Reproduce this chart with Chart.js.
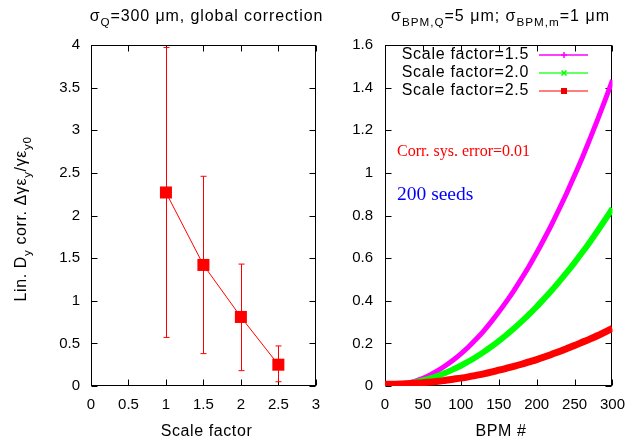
<!DOCTYPE html>
<html>
<head>
<meta charset="utf-8">
<script src="https://cdn.jsdelivr.net/npm/chart.js@4"></script>
<style>
  body { margin: 0; background: #fff; }
  #wrap { position: relative; width: 635px; height: 439px; }
  canvas { position: absolute; top: 0; }
  #left { left: 0; }
  #right { left: 330px; }
</style>
</head>
<body>
<div id="wrap">
  <canvas id="left" width="330" height="439"></canvas>
  <canvas id="right" width="305" height="439"></canvas>
</div>
<script>
// left panel: mean correction vs scale factor, with spread over seeds
const scaleFactors = [1, 1.5, 2, 2.5];
const corrMean = [2.27, 1.42, 0.81, 0.25];
const corrLow = [0.57, 0.38, 0.18, 0.05];
const corrHigh = [3.97, 2.46, 1.43, 0.47];

// right panel: growth along the line for each scale factor
const bpm = [0, 10, 20, 30, 40, 50, 60, 70, 80, 90, 100, 110, 120, 130, 140, 150,
  160, 170, 180, 190, 200, 210, 220, 230, 240, 250, 260, 270, 280, 290, 300];
const sf15 = [0.000, 0.001, 0.006, 0.013, 0.023, 0.036, 0.053, 0.073, 0.096, 0.122, 0.151,
  0.183, 0.219, 0.258, 0.301, 0.347, 0.396, 0.448, 0.504, 0.562, 0.625,
  0.691, 0.760, 0.833, 0.908, 0.988, 1.070, 1.157, 1.246, 1.339, 1.435];
const sf20 = [0.003, 0.004, 0.007, 0.011, 0.018, 0.026, 0.036, 0.048, 0.062, 0.078, 0.095,
  0.115, 0.136, 0.159, 0.184, 0.211, 0.239, 0.270, 0.302, 0.336, 0.372,
  0.410, 0.449, 0.491, 0.534, 0.579, 0.626, 0.675, 0.726, 0.779, 0.833];
const sf25 = [0.008, 0.008, 0.009, 0.011, 0.013, 0.015, 0.019, 0.022, 0.027, 0.032, 0.037,
  0.043, 0.050, 0.057, 0.065, 0.074, 0.083, 0.092, 0.102, 0.113, 0.124,
  0.136, 0.149, 0.162, 0.176, 0.190, 0.205, 0.220, 0.236, 0.253, 0.270];
const seriesLabels = ['Scale factor=1.5', 'Scale factor=2.0', 'Scale factor=2.5'];

const FONT = '"Liberation Sans", Arial, sans-serif';
Chart.defaults.font.family = FONT;
Chart.defaults.font.size = 15;
Chart.defaults.color = '#000';

// gnuplot prints 1 instead of 1.0
const plainNum = v => String(+v.toFixed(2));

// text with subscripts: parts = [[text, isSub], ...]
function richWidth(ctx, parts, size) {
    let w = 0;
    for (const [t, sub] of parts) {
        ctx.font = (sub ? size * 0.73 : size) + 'px ' + FONT;
        w += ctx.measureText(t).width;
    }
    return w;
}
function drawRich(ctx, parts, cx, y, size) {
    let x = cx - richWidth(ctx, parts, size) / 2;
    for (const [t, sub] of parts) {
        ctx.font = (sub ? size * 0.73 : size) + 'px ' + FONT;
        ctx.fillText(t, x, y + (sub ? size * 0.3 : 0));
        x += ctx.measureText(t).width;
    }
}

// gnuplot style border with inward ticks on all four sides
const frame = {
    id: 'frame',
    beforeDatasetsDraw(chart) {
        const {ctx, chartArea: a, scales} = chart;
        const L = Math.round(a.left) + 0.5, R = Math.round(a.right) - 0.5;
        const T = Math.round(a.top) + 0.5, B = Math.round(a.bottom) - 0.5;
        ctx.save();
        ctx.strokeStyle = '#000';
        ctx.lineWidth = 1;
        ctx.beginPath();
        scales.x.ticks.forEach(t => {
            const px = Math.round(scales.x.getPixelForValue(t.value)) + 0.5;
            ctx.moveTo(px, B); ctx.lineTo(px, B - 6);
            ctx.moveTo(px, T); ctx.lineTo(px, T + 6);
        });
        scales.y.ticks.forEach(t => {
            const py = Math.round(scales.y.getPixelForValue(t.value)) + 0.5;
            ctx.moveTo(L, py); ctx.lineTo(L + 6, py);
            ctx.moveTo(R, py); ctx.lineTo(R - 6, py);
        });
        ctx.stroke();
        ctx.strokeRect(L, T, R - L, B - T);
        ctx.restore();
    }
};

const errorBars = {
    id: 'errorBars',
    beforeDatasetsDraw(chart) {
        const {ctx, scales: {x, y}} = chart;
        ctx.save();
        ctx.strokeStyle = '#f00';
        ctx.lineWidth = 1;
        ctx.beginPath();
        scaleFactors.forEach((s, i) => {
            const px = Math.round(x.getPixelForValue(s)) + 0.5;
            const lo = y.getPixelForValue(corrLow[i]);
            const hi = y.getPixelForValue(corrHigh[i]);
            ctx.moveTo(px, lo); ctx.lineTo(px, hi);
            ctx.moveTo(px - 3, hi); ctx.lineTo(px + 3, hi);
            ctx.moveTo(px - 3, lo); ctx.lineTo(px + 3, lo);
        });
        ctx.stroke();
        ctx.restore();
    }
};

const leftText = {
    id: 'leftText',
    afterDraw(chart) {
        const ctx = chart.ctx;
        ctx.save();
        ctx.fillStyle = '#000';
        ctx.textBaseline = 'alphabetic';
        ctx.letterSpacing = '0.9px';
        drawRich(ctx, [['\u03c3', 0], ['Q', 1], ['=300 \u03bcm, global correction', 0]], 206.5, 21, 16);
        ctx.letterSpacing = '0.6px';
        drawRich(ctx, [['Scale factor', 0]], 206.5, 436, 16);
        ctx.translate(26, 219);
        ctx.rotate(-Math.PI / 2);
        drawRich(ctx, [['Lin. D', 0], ['y', 1], [' corr. \u0394\u03b3\u03b5', 0], ['y', 1],
            ['/\u03b3\u03b5', 0], ['y0', 1]], 0, 0, 16);
        ctx.restore();
    }
};

const keyColors = ['#f0f', '#3f3', '#f55'];
const markColors = ['#f0f', '#0f0', '#f00'];

const rightText = {
    id: 'rightText',
    afterDraw(chart) {
        const ctx = chart.ctx;
        ctx.save();
        ctx.fillStyle = '#000';
        ctx.letterSpacing = '1px';
        drawRich(ctx, [['\u03c3', 0], ['BPM,Q', 1], ['=5 \u03bcm; \u03c3', 0], ['BPM,m', 1], ['=1 \u03bcm', 0]], 170.5, 21, 16);
        ctx.letterSpacing = '0.6px';
        drawRich(ctx, [['BPM #', 0]], 171, 436, 16);

        // key
        ctx.font = '16px ' + FONT;
        ctx.letterSpacing = '0.7px';
        ctx.textAlign = 'right';
        ctx.textBaseline = 'middle';
        seriesLabels.forEach((lab, i) => {
            const y = 55 + i * 18;
            ctx.fillStyle = '#000';
            ctx.fillText(lab, 199, y);
            ctx.strokeStyle = keyColors[i];
            ctx.lineWidth = 1.5;
            ctx.beginPath();
            ctx.moveTo(209, y); ctx.lineTo(258, y);
            ctx.stroke();
            ctx.strokeStyle = markColors[i];
            ctx.lineWidth = 1.5;
            ctx.beginPath();
            if (i === 0) {
                ctx.moveTo(231, y); ctx.lineTo(237, y);
                ctx.moveTo(234, y - 3); ctx.lineTo(234, y + 3);
                ctx.stroke();
            } else if (i === 1) {
                ctx.moveTo(231.5, y - 2.5); ctx.lineTo(236.5, y + 2.5);
                ctx.moveTo(231.5, y + 2.5); ctx.lineTo(236.5, y - 2.5);
                ctx.stroke();
            } else {
                ctx.fillStyle = '#e00';
                ctx.fillRect(231, y - 3, 6, 6);
            }
        });

        ctx.textAlign = 'left';
        ctx.textBaseline = 'middle';
        ctx.letterSpacing = '0px';
        ctx.fillStyle = '#f00';
        ctx.font = '16px "Liberation Serif", "Times New Roman", serif';
        ctx.fillText('Corr. sys. error=0.01', 67, 152);
        ctx.fillStyle = '#00f';
        ctx.font = '19.5px "Liberation Serif", "Times New Roman", serif';
        ctx.fillText('200 seeds', 67, 195);
        ctx.restore();
    }
};

new Chart(document.getElementById('left'), {
    type: 'line',
    data: {
        datasets: [{
            data: scaleFactors.map((s, i) => ({x: s, y: corrMean[i]})),
            borderColor: '#f00',
            backgroundColor: '#f00',
            borderWidth: 1,
            pointStyle: 'rect',
            pointRadius: 8.5,
            pointBorderWidth: 0,
            clip: false,
        }]
    },
    options: {
        responsive: false,
        animation: false,
        events: [],
        layout: {padding: {left: 0, top: 45, right: 8, bottom: 0}},
        plugins: {legend: {display: false}, tooltip: {enabled: false}},
        scales: {
            x: {
                type: 'linear', min: 0, max: 3,
                ticks: {stepSize: 0.5, padding: 10, maxRotation: 0, autoSkip: false, callback: plainNum},
                grid: {display: false, drawTicks: false},
                border: {display: false},
                afterFit: s => { s.height = 53; },
            },
            y: {
                type: 'linear', min: 0, max: 4,
                ticks: {stepSize: 0.5, padding: 11, callback: plainNum},
                grid: {display: false, drawTicks: false},
                border: {display: false},
                afterFit: s => { s.width = 91; },
            }
        }
    },
    plugins: [frame, errorBars, leftText]
});

const curves = [sf15, sf20, sf25];
const widths = [5, 6, 7];

new Chart(document.getElementById('right'), {
    type: 'line',
    data: {
        datasets: curves.map((vals, i) => ({
            label: seriesLabels[i],
            data: bpm.map((b, j) => ({x: b, y: vals[j]})),
            borderColor: markColors[i],
            borderWidth: widths[i],
            pointRadius: 0,
            cubicInterpolationMode: 'monotone',
            order: 3 - i,
        }))
    },
    options: {
        responsive: false,
        animation: false,
        events: [],
        layout: {padding: {left: 0, top: 45, right: 18, bottom: 0}},
        plugins: {legend: {display: false}, tooltip: {enabled: false}},
        scales: {
            x: {
                type: 'linear', min: 0, max: 300,
                ticks: {stepSize: 50, padding: 10, maxRotation: 0, autoSkip: false, callback: plainNum},
                grid: {display: false, drawTicks: false},
                border: {display: false},
                afterFit: s => { s.height = 53; },
            },
            y: {
                type: 'linear', min: 0, max: 1.6,
                ticks: {stepSize: 0.2, padding: 12, callback: plainNum},
                grid: {display: false, drawTicks: false},
                border: {display: false},
                afterFit: s => { s.width = 55; },
            }
        }
    },
    plugins: [frame, rightText]
});
</script>
</body>
</html>
